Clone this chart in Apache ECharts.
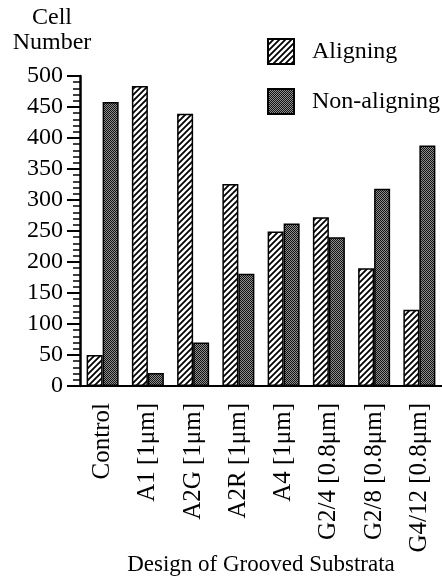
<!DOCTYPE html>
<html>
<head>
<meta charset="utf-8">
<script src="https://cdn.jsdelivr.net/npm/echarts@6/dist/echarts.min.js"></script>
<style>html,body{margin:0;padding:0;background:#fff;}#c{width:442px;height:579px;}</style>
</head>
<body>
<div id="c"></div>
<script>
var categories = ['Control', 'A1 [1μm]', 'A2G [1μm]', 'A2R [1μm]', 'A4 [1μm]', 'G2/4 [0.8μm]', 'G2/8 [0.8μm]', 'G4/12 [0.8μm]'];
var aligning = [50, 484, 439, 326, 249, 272, 190, 123];
var nonAligning = [458, 21, 70, 181, 262, 240, 318, 388];
var yTicks = [0, 50, 100, 150, 200, 250, 300, 350, 400, 450, 500];

function hatch() {
  var c = document.createElement('canvas'); c.width = 6; c.height = 6;
  var g = c.getContext('2d');
  g.fillStyle = '#fff'; g.fillRect(0, 0, 6, 6);
  g.strokeStyle = '#000'; g.lineWidth = 1.8;
  g.beginPath();
  g.moveTo(-1, 7); g.lineTo(7, -1);
  g.moveTo(-1, 1); g.lineTo(1, -1);
  g.moveTo(5, 7); g.lineTo(7, 5);
  g.stroke();
  return c;
}
function stipple() {
  var c = document.createElement('canvas'); c.width = 2; c.height = 2;
  var g = c.getContext('2d');
  g.fillStyle = '#909090'; g.fillRect(0, 0, 2, 2);
  g.fillStyle = '#111'; g.fillRect(0, 0, 1, 1); g.fillRect(1, 1, 1, 1);
  return c;
}
var hatchFill = { image: hatch(), repeat: 'repeat' };
var stippleFill = { image: stipple(), repeat: 'repeat' };
var font = 'Liberation Serif, Times New Roman, serif';

var chart = echarts.init(document.getElementById('c'), null, { renderer: 'canvas' });
chart.setOption({
  animation: false,
  textStyle: { fontFamily: font, color: '#000' },
  grid: { left: 80, right: 0, top: 76, bottom: 193, containLabel: false, outerBoundsMode: 'none' },
  graphic: [{
    type: 'text', x: 52, y: 5,
    style: { text: 'Cell\nNumber', fontSize: 24, fontFamily: font, fill: '#000', align: 'center', lineHeight: 25 }
  }],
  legend: {
    orient: 'vertical', left: 267, top: 38, padding: 0,
    itemWidth: 26, itemHeight: 25, itemGap: 23,
    icon: 'rect',
    textStyle: { fontSize: 24, lineHeight: 25, fontFamily: font, color: '#000', padding: [0, 0, 0, 13] },
    data: ['Aligning', 'Non-aligning']
  },
  xAxis: {
    type: 'category', data: categories,
    name: 'Design of Grooved Substrata', nameLocation: 'middle', nameGap: 167, nameMoveOverlap: false,
    nameTextStyle: { fontSize: 23, fontFamily: font, color: '#000' },
    axisLine: { lineStyle: { color: '#000', width: 2 } },
    axisTick: { length: 10, lineStyle: { color: '#000', width: 2 } },
    axisLabel: { rotate: 90, fontSize: 25, fontFamily: font, color: '#000', margin: 17, interval: 0 }
  },
  yAxis: {
    type: 'value', min: yTicks[0], max: yTicks[yTicks.length - 1], interval: 50,
    axisLine: { show: true, lineStyle: { color: '#000', width: 2.5 } },
    axisTick: { show: true, length: 13, lineStyle: { color: '#000', width: 2 } },
    minorTick: { show: true, splitNumber: 5, length: 7, lineStyle: { color: '#000', width: 1.5 } },
    splitLine: { show: false },
    axisLabel: { fontSize: 24, fontFamily: font, color: '#000', margin: 17 }
  },
  series: [{
    name: 'Aligning', type: 'bar', data: aligning, barWidth: 16, barGap: '0%',
    itemStyle: { color: hatchFill, borderColor: '#000', borderWidth: 1.5 }
  }, {
    name: 'Non-aligning', type: 'bar', data: nonAligning, barWidth: 16,
    itemStyle: { color: stippleFill, borderColor: '#000', borderWidth: 1.5 }
  }]
});
</script>
</body>
</html>
